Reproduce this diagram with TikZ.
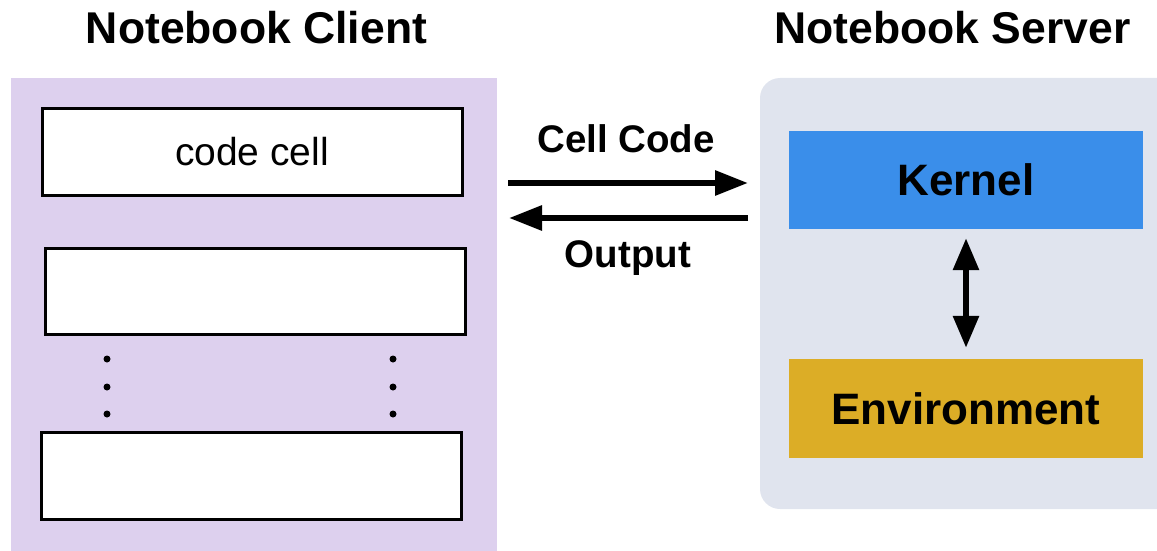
\documentclass[tikz,border=0pt]{standalone}
\usepackage{fontspec}
\setmainfont{Liberation Sans}
\usetikzlibrary{arrows.meta}
\definecolor{clientbg}{RGB}{221,208,238}
\definecolor{serverbg}{RGB}{224,228,238}
\definecolor{kernelblue}{RGB}{58,142,234}
\definecolor{envgold}{RGB}{220,173,38}
\tikzset{
  title/.style={anchor=base, font=\fontsize{44.5pt}{50pt}\selectfont\bfseries},
  label/.style={anchor=base, font=\fontsize{38.5pt}{44pt}\selectfont\bfseries},
  cellbox/.style={draw=black, fill=white, line width=3pt, rectangle, inner sep=0pt,
    minimum width=420pt, minimum height=87pt, font=\fontsize{39pt}{44pt}\selectfont},
  srvbox/.style={rectangle, inner sep=0pt, minimum width=354pt, minimum height=98pt,
    font=\fontsize{44pt}{50pt}\selectfont\bfseries},
  bigarrow/.style={line width=6pt, -{Triangle[length=33pt,width=24pt]}},
  dblarrow/.style={line width=6pt, {Triangle[length=32pt,width=25pt]}-{Triangle[length=32pt,width=25pt]}},
  dotmark/.style={fill=black, circle, inner sep=0pt, minimum size=7pt}
}
\begin{document}
\begin{tikzpicture}[x=1pt, y=-1pt]
\useasboundingbox (0,0) rectangle (1157,551);
\clip (0,0) rectangle (1157,551);
% panels
\fill[clientbg] (11,78) rectangle (497,560);
\fill[serverbg, rounded corners=20pt] (760,78) rectangle (1200,509);
% titles
\node[title] (tclient) at (256.5,44) {Notebook Client};
\node[title] (tserver) at (952.5,44) {Notebook Server};
% client cells
\node[cellbox] (cell1) at (252,151.5) {code cell};
\node[cellbox, minimum height=86pt] (cell2) at (255,291) {};
\node[cellbox] (cell3) at (251,475.5) {};
% dots
\node[dotmark] (dl1) at (107,359) {};
\node[dotmark] (dl2) at (107,387) {};
\node[dotmark] (dl3) at (107,414) {};
\node[dotmark] (dr1) at (393,359) {};
\node[dotmark] (dr2) at (393,387) {};
\node[dotmark] (dr3) at (393,414) {};
% server boxes
\node[srvbox, fill=kernelblue] (kernel) at (966,180) {Kernel};
\node[srvbox, fill=envgold, minimum height=99pt] (env) at (966,408.5) {Environment};
\draw[dblarrow, shorten <=9pt, shorten >=11pt] (kernel.south) -- (env.north);
% middle arrows
\coordinate (codeStart) at (508,183);
\coordinate (codeEnd) at (748,183);
\coordinate (outStart) at (748,218);
\coordinate (outEnd) at (509,218);
\draw[bigarrow] (codeStart) -- (codeEnd);
\draw[bigarrow] (outStart) -- (outEnd);
\node[label] (lcode) at (626,152) {Cell Code};
\node[label] (lout) at (628,267) {Output};
\end{tikzpicture}
\end{document}
